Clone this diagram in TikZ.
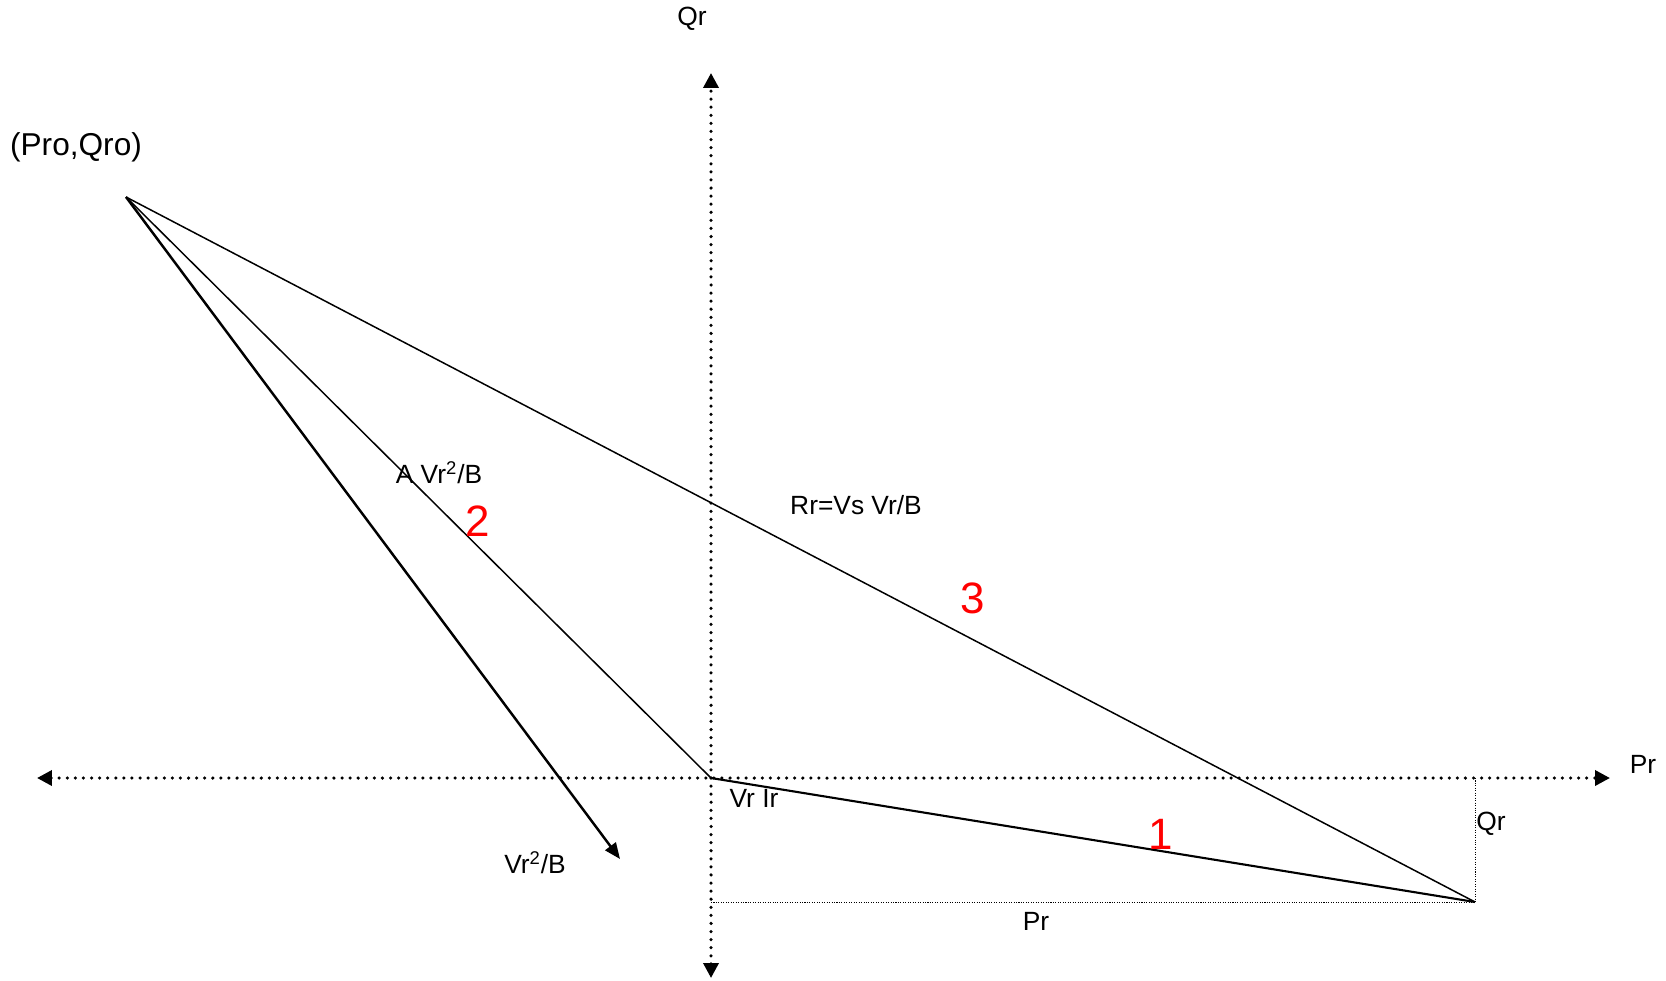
\documentclass[tikz,border=0pt]{standalone}
\usepackage{fontspec}
\setmainfont{Liberation Sans}
\usetikzlibrary{arrows.meta}

\begin{document}
\begin{tikzpicture}[
    x=0.02cm, y=-0.02cm,
    % heavy dotted axes with filled triangle tips
    axis/.style={
        line width=2pt,
        dash pattern=on 0pt off 4.6pt,
        line cap=round,
        {Triangle[length=0.3cm,width=0.3cm]}-{Triangle[length=0.3cm,width=0.3cm]}
    },
    % fine dotted projection lines
    proj/.style={line width=0.5pt, dash pattern=on 0.6pt off 0.8pt},
    % triangle sides
    side/.style={draw=black, line width=0.85pt},
    % the Vr^2/B vector
    vec/.style={draw=black, line width=1.4pt, -{Triangle[length=0.32cm,width=0.26cm]}},
    lbl/.style={inner sep=0pt, font=\fontsize{15pt}{18pt}\selectfont},
    num/.style={inner sep=0pt, text=red, font=\fontsize{25pt}{30pt}\selectfont}
]

\useasboundingbox[fill=white] (0,0) rectangle (1666,980);

% --- points ---
\coordinate (O) at (711,778);
\coordinate (P0) at (126,197);
\coordinate (R) at (1475,902);
\coordinate (V) at (620,859);
\coordinate (xl) at (37,778);
\coordinate (xr) at (1610,778);
\coordinate (yt) at (711,73);
\coordinate (yb) at (711,978);
\coordinate (Rx) at (1475,778);
\coordinate (Oy) at (711,902);

% --- axes ---
\draw[axis] (xl) -- (xr);
\draw[axis] (yb) -- (yt);

% --- projections of R ---
\draw[proj] (Rx) -- (R);
\draw[proj] (Oy) -- (R);

% --- triangle and vector ---
\draw[side] (P0) -- (O);
\draw[side] (P0) -- (R);
\draw[side, line width=1.2pt] (O) -- (R);
\draw[vec] (P0) -- (V);

% --- labels ---
\node[lbl] (qrtop) at (692,19) {Qr};
\node[lbl, font=\fontsize{18pt}{21pt}\selectfont] (pro) at (76,147) {(Pro,Qro)};
\node[lbl] (prright) at (1643,764) {Pr};
\node[lbl] (avrb) at (439,473) {A Vr\textsuperscript{2}/B};
\node[num] (n2) at (478,521) {2};
\node[lbl] (rr) at (856,505) {Rr=Vs Vr/B};
\node[num] (n3) at (973,598) {3};
\node[lbl] (vrir) at (754,798) {Vr Ir};
\node[num] (n1) at (1161,834) {1};
\node[lbl] (vrb) at (535,863) {Vr\textsuperscript{2}/B};
\node[lbl] (qrright) at (1491,824) {Qr};
\node[lbl] (prbottom) at (1036,921) {Pr};

\end{tikzpicture}
\end{document}
